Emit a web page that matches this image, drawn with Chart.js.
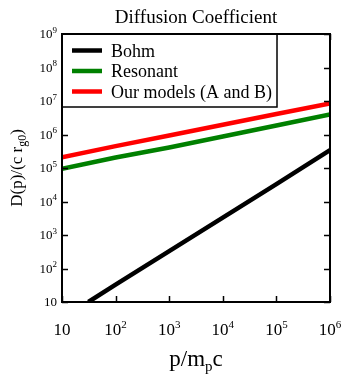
<!DOCTYPE html>
<html>
<head>
<meta charset="utf-8">
<script src="https://cdn.jsdelivr.net/npm/chart.js@4.4.0/dist/chart.umd.min.js"></script>
<style>
  html, body { margin: 0; padding: 0; background: #fff; }
  #wrap { width: 345px; height: 375px; }
</style>
</head>
<body>
<div id="wrap"><canvas id="myChart" width="345" height="375"></canvas></div>
<script>
const seriesNames = ['Bohm', 'Resonant', 'Our models (A and B)'];
const seriesColors = ['#000000', '#008000', '#ff0000'];

const bohmX = [31, 100, 1000, 10000, 100000, 1000000];
const bohmY = [10, 33, 330, 3300, 33000, 340000];

const resonantX = [10, 100, 1000, 10000, 100000, 1000000];
const resonantY = [94000, 205000, 410000, 870000, 1850000, 4000000];

const modelX = [10, 100, 1000, 10000, 100000, 1000000];
const modelY = [210000, 450000, 930000, 1950000, 4100000, 8500000];

const xTicks = [10, 100, 1000, 10000, 100000, 1000000];
const xTickExp = ['', '2', '3', '4', '5', '6'];
const yTicks = [10, 100, 1000, 1e4, 1e5, 1e6, 1e7, 1e8, 1e9];
const yTickExp = ['', '2', '3', '4', '5', '6', '7', '8', '9'];

const serif = '"Liberation Serif", "Times New Roman", serif';

function pts(xs, ys) {
  return xs.map((x, i) => ({ x: x, y: ys[i] }));
}

// draws "10" with a raised exponent, anchored at (x, y) baseline
function powText(ctx, x, y, exp, size, expSize, align) {
  ctx.font = size + 'px ' + serif;
  const w1 = ctx.measureText('10').width;
  ctx.font = expSize + 'px ' + serif;
  const w2 = exp ? ctx.measureText(exp).width : 0;
  const total = w1 + w2;
  let left = x;
  if (align === 'right') left = x - total;
  if (align === 'center') left = x - total / 2;
  ctx.textAlign = 'left';
  ctx.font = size + 'px ' + serif;
  ctx.fillText('10', left, y);
  if (exp) {
    ctx.font = expSize + 'px ' + serif;
    ctx.fillText(exp, left + w1, y - size * 0.42);
  }
}

const decor = {
  id: 'decor',
  afterDraw(chart) {
    const ctx = chart.ctx;
    const a = chart.chartArea;
    const xs = chart.scales.x, ys = chart.scales.y;
    ctx.save();
    ctx.fillStyle = '#000';
    ctx.strokeStyle = '#000';
    ctx.textBaseline = 'alphabetic';

    // title
    ctx.font = '19px ' + serif;
    ctx.textAlign = 'center';
    ctx.fillText('Diffusion Coefficient', (a.left + a.right) / 2, 23);

    // inward ticks on all four sides
    ctx.lineWidth = 1.5;
    ctx.beginPath();
    xTicks.forEach(v => {
      const px = Math.round(xs.getPixelForValue(v)) + 0.5;
      ctx.moveTo(px, a.bottom); ctx.lineTo(px, a.bottom - 6);
      ctx.moveTo(px, a.top); ctx.lineTo(px, a.top + 6);
    });
    yTicks.forEach(v => {
      const py = Math.round(ys.getPixelForValue(v)) + 0.5;
      ctx.moveTo(a.left, py); ctx.lineTo(a.left + 6, py);
      ctx.moveTo(a.right, py); ctx.lineTo(a.right - 6, py);
    });
    ctx.stroke();

    // tick labels
    xTicks.forEach((v, i) => {
      powText(ctx, xs.getPixelForValue(v), a.bottom + 33, xTickExp[i], 17, 11, 'center');
    });
    yTicks.forEach((v, i) => {
      powText(ctx, a.left - 5, ys.getPixelForValue(v) + 4, yTickExp[i], 13, 9, 'right');
    });

    // x axis title p/m_pc
    ctx.textAlign = 'left';
    ctx.font = '23px ' + serif;
    const wA = ctx.measureText('p/m').width;
    const wC = ctx.measureText('c').width;
    ctx.font = '15px ' + serif;
    const wP = ctx.measureText('p').width;
    let tx = (a.left + a.right) / 2 - (wA + wP + wC) / 2;
    const ty = 366;
    ctx.font = '23px ' + serif;
    ctx.fillText('p/m', tx, ty);
    ctx.font = '15px ' + serif;
    ctx.fillText('p', tx + wA, ty + 5);
    ctx.font = '23px ' + serif;
    ctx.fillText('c', tx + wA + wP, ty);

    // y axis title D(p)/(c r_g0)
    ctx.save();
    ctx.translate(22, (a.top + a.bottom) / 2);
    ctx.rotate(-Math.PI / 2);
    ctx.font = '17px ' + serif;
    const s1 = 'D(p)/(c r', s3 = ')';
    const w1 = ctx.measureText(s1).width, w3 = ctx.measureText(s3).width;
    ctx.font = '12px ' + serif;
    const w2 = ctx.measureText('g0').width;
    let lx = -(w1 + w2 + w3) / 2;
    ctx.font = '17px ' + serif;
    ctx.fillText(s1, lx, 0);
    ctx.font = '12px ' + serif;
    ctx.fillText('g0', lx + w1, 4);
    ctx.font = '17px ' + serif;
    ctx.fillText(s3, lx + w1 + w2, 0);
    ctx.restore();

    // legend box
    const lgRight = 277, lgBottom = 107;
    ctx.fillStyle = '#fff';
    ctx.fillRect(a.left, a.top, lgRight - a.left, lgBottom - a.top);
    ctx.lineWidth = 1.5;
    ctx.strokeRect(a.left, a.top, lgRight - a.left, lgBottom - a.top);
    chart.data.datasets.forEach((ds, i) => {
      const cy = 50.5 + i * 20.5;
      ctx.strokeStyle = ds.borderColor;
      ctx.lineWidth = 4.5;
      ctx.beginPath();
      ctx.moveTo(72, cy); ctx.lineTo(102, cy);
      ctx.stroke();
      ctx.fillStyle = '#000';
      ctx.font = '18px ' + serif;
      ctx.textAlign = 'left';
      ctx.fillText(ds.label, 111, cy + 6);
    });

    // frame
    ctx.strokeStyle = '#000';
    ctx.lineWidth = 2;
    ctx.strokeRect(a.left, a.top, a.right - a.left, a.bottom - a.top);
    ctx.restore();
  }
};

const ctx = document.getElementById('myChart');
new Chart(ctx, {
  type: 'scatter',
  data: {
    datasets: [
      { label: seriesNames[0], data: pts(bohmX, bohmY), borderColor: seriesColors[0] },
      { label: seriesNames[1], data: pts(resonantX, resonantY), borderColor: seriesColors[1] },
      { label: seriesNames[2], data: pts(modelX, modelY), borderColor: seriesColors[2] }
    ].map(d => Object.assign(d, {
      showLine: true, pointRadius: 0, borderWidth: 4.5, tension: 0,
      backgroundColor: d.borderColor
    }))
  },
  options: {
    responsive: false,
    maintainAspectRatio: false,
    animation: false,
    events: [],
    layout: { padding: { top: 34, right: 15, left: 0, bottom: 0 } },
    plugins: { legend: { display: false }, tooltip: { enabled: false } },
    scales: {
      x: {
        type: 'logarithmic', min: 10, max: 1000000,
        grid: { display: false }, border: { display: false },
        ticks: { display: false },
        afterFit: s => { s.height = 73; }
      },
      y: {
        type: 'logarithmic', min: 10, max: 1e9,
        grid: { display: false }, border: { display: false },
        ticks: { display: false },
        afterFit: s => { s.width = 62; }
      }
    }
  },
  plugins: [decor]
});
</script>
</body>
</html>
